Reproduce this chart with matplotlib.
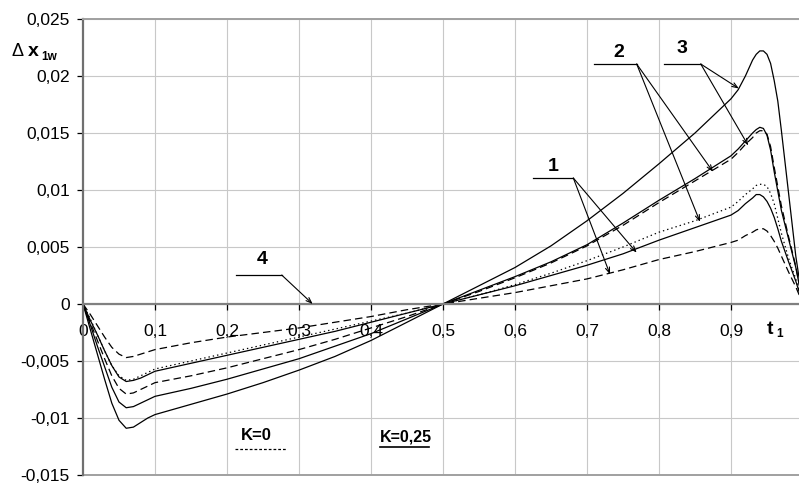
import matplotlib
matplotlib.use("Agg")
import matplotlib.pyplot as plt

plt.rcParams['font.family'] = ['Liberation Sans', 'DejaVu Sans']

# shared time grid
t = [0, 0.01, 0.02, 0.03, 0.04, 0.05, 0.06, 0.07, 0.08, 0.09, 0.1,
     0.15, 0.2, 0.25, 0.3, 0.35, 0.4, 0.45, 0.5, 0.55, 0.6, 0.65, 0.7,
     0.75, 0.8, 0.85, 0.9, 0.91, 0.92, 0.93, 0.935, 0.94, 0.945, 0.95,
     0.955, 0.96, 0.965, 0.97, 0.98, 0.99, 1.0]

# curve 3 (solid, largest)
a_solid = [0, -0.0022, -0.0044, -0.0066, -0.0087, -0.0102, -0.0109, -0.0108,
           -0.0104, -0.0100, -0.0097,
           -0.0088, -0.0079, -0.0069, -0.0058, -0.0046, -0.0032, -0.0016, 0,
           0.0016, 0.0032, 0.0051, 0.0073, 0.0097, 0.0123, 0.0150, 0.0180,
           0.0188, 0.0200, 0.0214, 0.0219, 0.0222, 0.0222, 0.0219, 0.0211,
           0.0196, 0.0178, 0.0152, 0.0097, 0.0042, 0.0]
# curve pair, solid
b_solid = [0, -0.0018, -0.0037, -0.0055, -0.0073, -0.0086, -0.0091, -0.0090,
           -0.0087, -0.0084, -0.0081,
           -0.0074, -0.0066, -0.0057, -0.0048, -0.0037, -0.0026, -0.0013, 0,
           0.0012, 0.0024, 0.0037, 0.0052, 0.0071, 0.0091, 0.0110, 0.0130,
           0.0136, 0.0143, 0.0150, 0.0153, 0.0155, 0.0154, 0.0148, 0.0135,
           0.0116, 0.0099, 0.0082, 0.0057, 0.0032, 0.0]
# curve pair, dashed
c_dashed = [0, -0.0016, -0.0032, -0.0048, -0.0063, -0.0074, -0.0079, -0.0078,
            -0.0075, -0.0072, -0.0069,
            -0.0063, -0.0056, -0.0048, -0.0040, -0.0031, -0.0021, -0.0011, 0,
            0.0011, 0.0023, 0.0036, 0.0051, 0.0069, 0.0089, 0.0108, 0.0127,
            0.0133, 0.0140, 0.0146, 0.0150, 0.0152, 0.0152, 0.0149, 0.0138,
            0.0120, 0.0103, 0.0086, 0.0059, 0.0033, 0.0]
# K=0, dotted
d_dotted = [0, -0.0013, -0.0027, -0.0041, -0.0054, -0.0063, -0.0067, -0.0066,
            -0.0063, -0.0060, -0.0057,
            -0.0050, -0.0043, -0.0036, -0.0029, -0.0022, -0.0015, -0.0008, 0,
            0.0008, 0.0017, 0.0027, 0.0038, 0.0050, 0.0063, 0.0073, 0.0085,
            0.0090, 0.0096, 0.0101, 0.0104, 0.0105, 0.0105, 0.0103, 0.0097,
            0.0088, 0.0075, 0.0062, 0.0040, 0.0022, 0.0]
# curve 1, solid
e_solid = [0, -0.0014, -0.0027, -0.0041, -0.0054, -0.0064, -0.0068, -0.0067,
           -0.0065, -0.0062, -0.0059,
           -0.0052, -0.0045, -0.0038, -0.0031, -0.0024, -0.0016, -0.0008, 0,
           0.0008, 0.0016, 0.0025, 0.0034, 0.0044, 0.0056, 0.0067, 0.0078,
           0.0082, 0.0088, 0.0093, 0.0096, 0.0096, 0.0094, 0.0090, 0.0084,
           0.0076, 0.0066, 0.0055, 0.0037, 0.0020, 0.0]
# curve 1, dashed
f_dashed = [0, -0.0009, -0.0019, -0.0029, -0.0038, -0.0044, -0.0047, -0.0046,
            -0.0044, -0.0042, -0.0040,
            -0.0034, -0.0029, -0.0025, -0.0021, -0.0016, -0.0011, -0.0005, 0,
            0.0005, 0.0010, 0.0016, 0.0022, 0.0030, 0.0039, 0.0046, 0.0054,
            0.0056, 0.0060, 0.0063, 0.0065, 0.0066, 0.0066, 0.0064, 0.0060,
            0.0055, 0.0049, 0.0042, 0.0028, 0.0015, 0.0]

x_ticks = [0, 0.1, 0.2, 0.3, 0.4, 0.5, 0.6, 0.7, 0.8, 0.9]
x_labels = ['0', '0,1', '0,2', '0,3', '0,4', '0,5', '0,6', '0,7', '0,8', '0,9']
y_ticks = [-0.015, -0.01, -0.005, 0, 0.005, 0.01, 0.015, 0.02, 0.025]
y_labels = ['-0,015', '-0,01', '-0,005', '0', '0,005', '0,01', '0,015', '0,02', '0,025']

fig = plt.figure(figsize=(7.99, 4.84), dpi=100)
# right edge of the plot area runs past the picture, like the original
ax = fig.add_axes([83 / 799, 9 / 484, 720 / 799, 456 / 484])
ax.set_xlim(0, 1)
ax.set_ylim(-0.015, 0.025)

ax.spines['right'].set_visible(False)
ax.spines['bottom'].set_position(('data', 0))
ax.spines['bottom'].set_color('#808080')
ax.spines['bottom'].set_linewidth(1.6)
ax.spines['left'].set_color('#707070')
ax.spines['left'].set_linewidth(1.6)
ax.spines['top'].set_color('#a0a0a0')
ax.spines['top'].set_linewidth(1.4)
ax.axhline(-0.015, color='#a0a0a0', lw=1.4, clip_on=False)

ax.set_xticks(x_ticks)
ax.set_xticklabels(x_labels)
ax.set_yticks(y_ticks)
ax.set_yticklabels(y_labels)
ax.tick_params(axis='x', direction='out', length=4.5, width=0.9, color='k',
               pad=10, labelsize=12.5)
ax.tick_params(axis='y', direction='out', length=4.5, width=0.9, color='k',
               pad=5, labelsize=12.5)
for gx in x_ticks[1:] + [1.0]:
    ax.axvline(gx, color='#c8c8c8', lw=0.8, zorder=0)
for gy in y_ticks:
    ax.axhline(gy, color='#c8c8c8', lw=0.8, zorder=0)

ax.plot(t, a_solid, color='k', lw=0.9)
ax.plot(t, b_solid, color='k', lw=0.9)
ax.plot(t, c_dashed, color='k', lw=0.9, linestyle=(0, (6, 3.3)))
ax.plot(t, d_dotted, color='k', lw=0.9, linestyle=(0, (1.1, 2.4)))
ax.plot(t, e_solid, color='k', lw=0.9)
ax.plot(t, f_dashed, color='k', lw=0.9, linestyle=(0, (6, 3.3)))

# numbered callouts: text, leader line, arrows
arrow = dict(arrowstyle='->,head_length=0.4,head_width=0.15', lw=0.8,
             color='k', shrinkA=0, shrinkB=0)
callouts = [
    ('1', (0.653, 0.0121), (0.625, 0.681), 0.01105, [(0.769, 0.0045), (0.732, 0.0026)]),
    ('2', (0.744, 0.0221), (0.710, 0.769), 0.02105, [(0.875, 0.0116), (0.857, 0.0072)]),
    ('3', (0.832, 0.0224), (0.807, 0.858), 0.02105, [(0.911, 0.0189), (0.924, 0.0139)]),
    ('4', (0.249, 0.0039), (0.213, 0.276), 0.00254, [(0.319, 0.0)]),
]
for label, pos, (x0, x1), ly, targets in callouts:
    ax.text(pos[0], pos[1], label, fontsize=14, fontweight='bold',
            ha='center', va='center')
    ax.plot([x0, x1], [ly, ly], color='k', lw=0.9)
    for tx, ty in targets:
        ax.annotate('', xy=(tx, ty), xytext=(x1, ly), arrowprops=arrow)

# axis titles
fig.text(11 / 799, 1 - 52 / 484, '\u0394', fontsize=13, va='center')
fig.text(28 / 799, 1 - 52 / 484, 'x', fontsize=14, fontweight='bold', va='center')
fig.text(41 / 799, 1 - 57 / 484, '1w', fontsize=8.5, fontweight='bold', va='center')
fig.text(767 / 799, 1 - 329 / 484, 't', fontsize=14, fontweight='bold', va='center')
fig.text(776 / 799, 1 - 334 / 484, '1', fontsize=8.5, fontweight='bold', va='center')

# K legend
ax.text(0.219, -0.0115, 'K=0', fontsize=12, fontweight='bold', ha='left', va='center')
ax.plot([0.211, 0.283], [-0.01271, -0.01271], color='k', lw=0.9, linestyle=(0, (2.2, 1.6)))
ax.text(0.413, -0.0117, 'K=0,25', fontsize=11.5, fontweight='bold', ha='left', va='center')
ax.plot([0.413, 0.480], [-0.01254, -0.01254], color='k', lw=1.2)

plt.savefig('out.png', dpi=100)
